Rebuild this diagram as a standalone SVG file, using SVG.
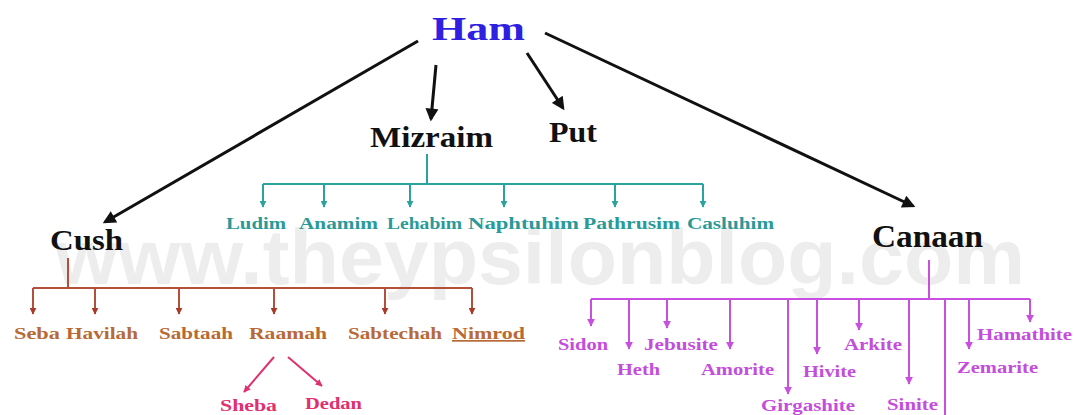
<svg xmlns="http://www.w3.org/2000/svg" width="1076" height="415" viewBox="0 0 1076 415">
<style>
.t{font-family:"Liberation Serif","Times New Roman",serif;font-weight:bold}
.blk{fill:#111}
.teal{fill:#2a9a98}
.brn{fill:#b86a35}
.pnk{fill:#e03070}
.mag{fill:#c44ddc}
.wm{font-family:"Liberation Sans",Arial,sans-serif;font-weight:bold;fill:#ededed}
.lb{stroke:#111;stroke-width:3;fill:none}
.lt{stroke:#2aa3a0;stroke-width:2;fill:none}
.lc{stroke:#b4503a;stroke-width:2;fill:none}
.lp{stroke:#e0306e;stroke-width:2;fill:none}
.lm{stroke:#c84fe0;stroke-width:2;fill:none}
</style>
<defs>
<marker id="ab" viewBox="0 0 10 10" refX="8" refY="5" markerUnits="userSpaceOnUse" markerWidth="15" markerHeight="13" orient="auto"><path d="M0,0 L10,5 L0,10 z" fill="#111"/></marker>
<marker id="at" viewBox="0 0 10 10" refX="9" refY="5" markerUnits="userSpaceOnUse" markerWidth="7" markerHeight="7" orient="auto"><path d="M0,0 L10,5 L0,10 z" fill="#2aa3a0"/></marker>
<marker id="ac" viewBox="0 0 10 10" refX="9" refY="5" markerUnits="userSpaceOnUse" markerWidth="7" markerHeight="7" orient="auto"><path d="M0,0 L10,5 L0,10 z" fill="#a83a2a"/></marker>
<marker id="ap" viewBox="0 0 10 10" refX="9" refY="5" markerUnits="userSpaceOnUse" markerWidth="7" markerHeight="7" orient="auto"><path d="M0,0 L10,5 L0,10 z" fill="#e0306e"/></marker>
<marker id="am" viewBox="0 0 10 10" refX="9" refY="5" markerUnits="userSpaceOnUse" markerWidth="8" markerHeight="8" orient="auto"><path d="M0,0 L10,5 L0,10 z" fill="#c84fe0"/></marker>
</defs>
<rect width="1076" height="415" fill="#ffffff"/>
<text class="wm" x="55" y="284" font-size="78" textLength="970" lengthAdjust="spacingAndGlyphs">www.theypsilonblog.com</text>

<g id="connectors">
<line class="lb" x1="418" y1="41" x2="105" y2="222" marker-end="url(#ab)"/>
<line class="lb" x1="436" y1="65" x2="431" y2="119" marker-end="url(#ab)"/>
<line class="lb" x1="527" y1="53" x2="563" y2="108" marker-end="url(#ab)"/>
<line class="lb" x1="545" y1="33" x2="913" y2="206" marker-end="url(#ab)"/>

<g id="mizraim-links">
<path class="lt" d="M427,154 V184 M263,184 H703"/>
<line class="lt" x1="263" y1="184" x2="263" y2="207" marker-end="url(#at)"/>
<line class="lt" x1="324" y1="184" x2="324" y2="207" marker-end="url(#at)"/>
<line class="lt" x1="410" y1="184" x2="410" y2="207" marker-end="url(#at)"/>
<line class="lt" x1="504" y1="184" x2="504" y2="207" marker-end="url(#at)"/>
<line class="lt" x1="615" y1="184" x2="615" y2="207" marker-end="url(#at)"/>
<line class="lt" x1="703" y1="184" x2="703" y2="207" marker-end="url(#at)"/>
</g>

<g id="cush-links">
<path class="lc" d="M68,258 V288 M33,288 H472"/>
<line class="lc" x1="33" y1="288" x2="33" y2="314" marker-end="url(#ac)"/>
<line class="lc" x1="95" y1="288" x2="95" y2="314" marker-end="url(#ac)"/>
<line class="lc" x1="179" y1="288" x2="179" y2="314" marker-end="url(#ac)"/>
<line class="lc" x1="274" y1="288" x2="274" y2="314" marker-end="url(#ac)"/>
<line class="lc" x1="385" y1="288" x2="385" y2="314" marker-end="url(#ac)"/>
<line class="lc" x1="472" y1="288" x2="472" y2="314" marker-end="url(#ac)"/>
<line class="lp" x1="274" y1="357" x2="244" y2="392" marker-end="url(#ap)"/>
<line class="lp" x1="288" y1="357" x2="322" y2="386" marker-end="url(#ap)"/>
</g>

<g id="canaan-links">
<path class="lm" d="M929,260 V299 M591,299 H1030 M945,299 V420"/>
<line class="lm" x1="591" y1="299" x2="591" y2="326" marker-end="url(#am)"/>
<line class="lm" x1="629" y1="299" x2="629" y2="349" marker-end="url(#am)"/>
<line class="lm" x1="667" y1="299" x2="667" y2="328" marker-end="url(#am)"/>
<line class="lm" x1="730" y1="299" x2="730" y2="349" marker-end="url(#am)"/>
<line class="lm" x1="788" y1="299" x2="788" y2="394" marker-end="url(#am)"/>
<line class="lm" x1="817" y1="299" x2="817" y2="354" marker-end="url(#am)"/>
<line class="lm" x1="859" y1="299" x2="859" y2="330" marker-end="url(#am)"/>
<line class="lm" x1="909" y1="299" x2="909" y2="384" marker-end="url(#am)"/>
<line class="lm" x1="969" y1="299" x2="969" y2="349" marker-end="url(#am)"/>
<line class="lm" x1="1030" y1="299" x2="1030" y2="322" marker-end="url(#am)"/>
</g>
</g>

<g id="ham"><text class="t" x="432" y="40" font-size="34" textLength="93" lengthAdjust="spacingAndGlyphs" fill="#2f1fe0">Ham</text></g>
<g id="mizraim"><text class="t blk" x="370" y="147" font-size="29" textLength="123" lengthAdjust="spacingAndGlyphs">Mizraim</text></g>
<g id="put"><text class="t blk" x="549" y="142" font-size="29" textLength="48" lengthAdjust="spacingAndGlyphs">Put</text></g>
<g id="cush"><text class="t blk" x="50" y="250" font-size="30" textLength="73" lengthAdjust="spacingAndGlyphs">Cush</text></g>
<g id="canaan"><text class="t blk" x="872" y="247" font-size="31" textLength="111" lengthAdjust="spacingAndGlyphs">Canaan</text></g>

<g id="ludim"><text class="t teal" x="226" y="229" font-size="16" textLength="60" lengthAdjust="spacingAndGlyphs">Ludim</text></g>
<g id="anamim"><text class="t teal" x="299" y="229" font-size="16" textLength="79" lengthAdjust="spacingAndGlyphs">Anamim</text></g>
<g id="lehabim"><text class="t teal" x="387" y="229" font-size="16" textLength="75" lengthAdjust="spacingAndGlyphs">Lehabim</text></g>
<g id="naphtuhim"><text class="t teal" x="468" y="229" font-size="16" textLength="111" lengthAdjust="spacingAndGlyphs">Naphtuhim</text></g>
<g id="pathrusim"><text class="t teal" x="583" y="229" font-size="16" textLength="97" lengthAdjust="spacingAndGlyphs">Pathrusim</text></g>
<g id="casluhim"><text class="t teal" x="687" y="229" font-size="16" textLength="87" lengthAdjust="spacingAndGlyphs">Casluhim</text></g>

<g id="seba"><text class="t brn" x="14" y="339" font-size="17" textLength="46" lengthAdjust="spacingAndGlyphs">Seba</text></g>
<g id="havilah"><text class="t brn" x="66" y="339" font-size="17" textLength="72" lengthAdjust="spacingAndGlyphs">Havilah</text></g>
<g id="sabtaah"><text class="t brn" x="159" y="339" font-size="17" textLength="74" lengthAdjust="spacingAndGlyphs">Sabtaah</text></g>
<g id="raamah"><text class="t brn" x="249" y="339" font-size="17" textLength="78" lengthAdjust="spacingAndGlyphs">Raamah</text></g>
<g id="sabtechah"><text class="t brn" x="348" y="339" font-size="17" textLength="94" lengthAdjust="spacingAndGlyphs">Sabtechah</text></g>
<g id="nimrod"><text class="t brn" x="452" y="339" font-size="17" textLength="73" lengthAdjust="spacingAndGlyphs" text-decoration="underline">Nimrod</text></g>
<g id="sheba"><text class="t pnk" x="220" y="411" font-size="17" textLength="57" lengthAdjust="spacingAndGlyphs">Sheba</text></g>
<g id="dedan"><text class="t pnk" x="305" y="409" font-size="17" textLength="57" lengthAdjust="spacingAndGlyphs">Dedan</text></g>

<g id="sidon"><text class="t mag" x="558" y="350" font-size="16" textLength="50" lengthAdjust="spacingAndGlyphs">Sidon</text></g>
<g id="heth"><text class="t mag" x="617" y="375" font-size="16" textLength="43" lengthAdjust="spacingAndGlyphs">Heth</text></g>
<g id="jebusite"><text class="t mag" x="644" y="350" font-size="16" textLength="74" lengthAdjust="spacingAndGlyphs">Jebusite</text></g>
<g id="amorite"><text class="t mag" x="701" y="375" font-size="16" textLength="73" lengthAdjust="spacingAndGlyphs">Amorite</text></g>
<g id="girgashite"><text class="t mag" x="761" y="411" font-size="16" textLength="94" lengthAdjust="spacingAndGlyphs">Girgashite</text></g>
<g id="hivite"><text class="t mag" x="803" y="377" font-size="16" textLength="53" lengthAdjust="spacingAndGlyphs">Hivite</text></g>
<g id="arkite"><text class="t mag" x="844" y="350" font-size="16" textLength="58" lengthAdjust="spacingAndGlyphs">Arkite</text></g>
<g id="sinite"><text class="t mag" x="887" y="410" font-size="16" textLength="51" lengthAdjust="spacingAndGlyphs">Sinite</text></g>
<g id="zemarite"><text class="t mag" x="957" y="373" font-size="16" textLength="81" lengthAdjust="spacingAndGlyphs">Zemarite</text></g>
<g id="hamathite"><text class="t mag" x="977" y="340" font-size="16" textLength="95" lengthAdjust="spacingAndGlyphs">Hamathite</text></g>
</svg>
